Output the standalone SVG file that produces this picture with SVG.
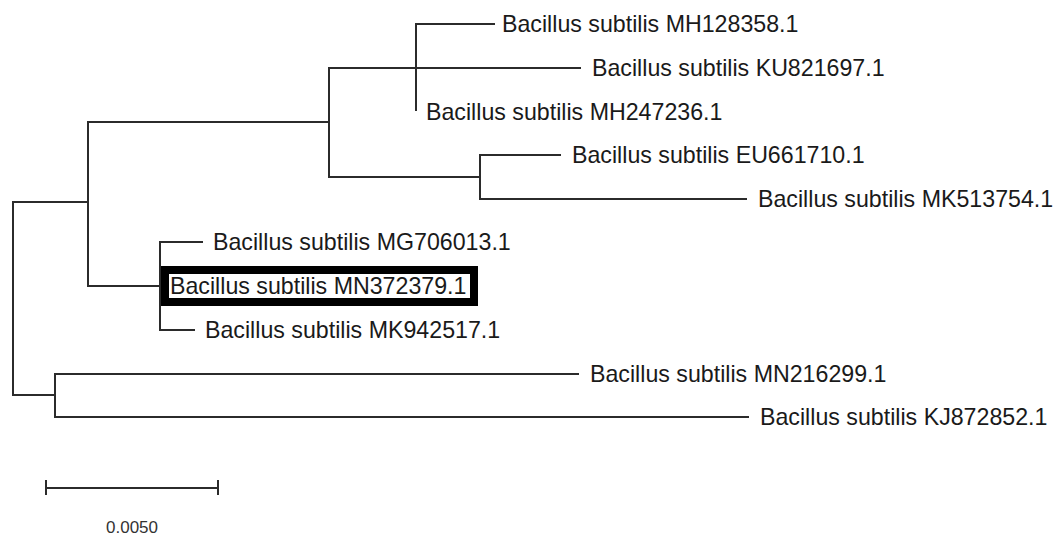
<svg xmlns="http://www.w3.org/2000/svg" width="1054" height="535" viewBox="0 0 1054 535">
<style>
.br{stroke:#2b2b2b;stroke-width:2;fill:none;stroke-linecap:square}
.lb{font-family:"Liberation Sans",Arial,sans-serif;font-size:23.2px;fill:#1a1a1a}
.sc{font-family:"Liberation Sans",Arial,sans-serif;font-size:16px;fill:#333}
</style>
<rect width="1054" height="535" fill="#fff"/>
<g id="connectors">
<path class="br" d="M13,202 V395 M13,202 H88 M13,395 H55"/>
<path class="br" d="M88,122 V286 M88,122 H329 M88,286 H160"/>
<path class="br" d="M329,68 V177 M329,68 H416 M329,177 H480"/>
<path class="br" d="M416,24 V110 M416,24 H494 M416,68 H580"/>
<path class="br" d="M480,155 V199 M480,155 H560 M480,199 H746"/>
<path class="br" d="M160,242 V330 M160,242 H202 M160,330 H194"/>
<path class="br" d="M55,374 V417 M55,374 H578 M55,417 H748"/>
</g>
<g id="n-MH128358"><text class="lb" x="502" y="32">Bacillus subtilis MH128358.1</text></g>
<g id="n-KU821697"><text class="lb" x="592" y="76">Bacillus subtilis KU821697.1</text></g>
<g id="n-MH247236"><text class="lb" x="426" y="120">Bacillus subtilis MH247236.1</text></g>
<g id="n-EU661710"><text class="lb" x="572" y="163">Bacillus subtilis EU661710.1</text></g>
<g id="n-MK513754"><text class="lb" x="758" y="207">Bacillus subtilis MK513754.1</text></g>
<g id="n-MG706013"><text class="lb" x="213" y="250">Bacillus subtilis MG706013.1</text></g>
<g id="n-MN372379">
<rect x="165" y="270" width="309" height="32" fill="#fff" stroke="#000" stroke-width="8"/>
<text class="lb" x="170" y="294">Bacillus subtilis MN372379.1</text>
</g>
<g id="n-MK942517"><text class="lb" x="205" y="338">Bacillus subtilis MK942517.1</text></g>
<g id="n-MN216299"><text class="lb" x="590" y="382">Bacillus subtilis MN216299.1</text></g>
<g id="n-KJ872852"><text class="lb" x="760" y="425">Bacillus subtilis KJ872852.1</text></g>
<g id="scale">
<path class="br" d="M46,488 H218 M46,481 V494 M218,481 V494"/>
<text class="sc" x="106" y="533" textLength="52" lengthAdjust="spacingAndGlyphs">0.0050</text>
</g>
</svg>
